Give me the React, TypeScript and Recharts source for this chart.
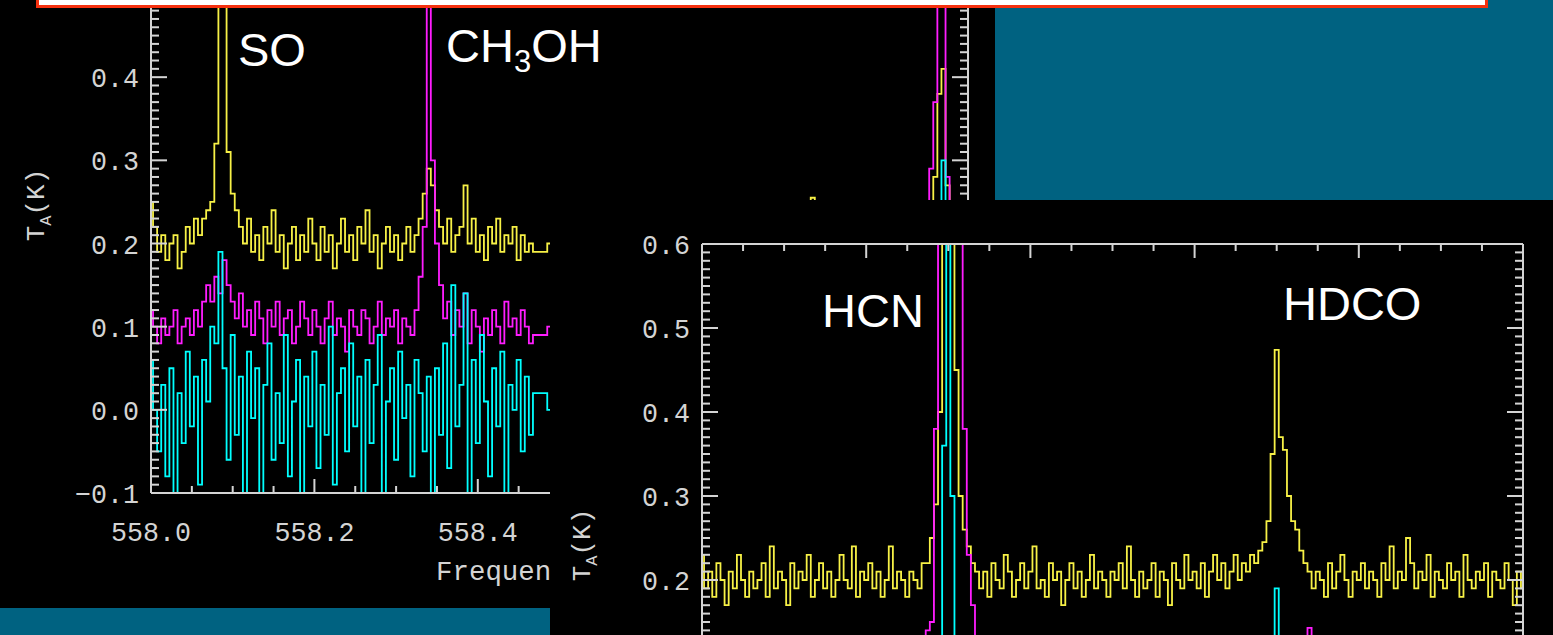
import { LineChart, Line, XAxis, YAxis } from 'recharts';

const YELLOW = '#f7f146';
const MAGENTA = '#ff1dff';
const CYAN = '#00ffff';
const AXIS = '#d4d4d4';
const TEAL = '#006281';
const MONO = '"Liberation Mono", "DejaVu Sans Mono", monospace';
const SANS = '"Liberation Sans", Arial, sans-serif';

const CHAN = 0.005; // GHz per channel

// upper spectrum (558 GHz band): channels 558.000 + 0.005 * k, k = 0..94
const leftStart = 558.0;
const leftYellow = [
  0.25, 0.22, 0.19, 0.21, 0.18, 0.2, 0.21, 0.17, 0.19, 0.22,
  0.2, 0.23, 0.21, 0.23, 0.24, 0.25, 0.32, 0.8, 0.8, 0.31,
  0.26, 0.24, 0.22, 0.2, 0.23, 0.19, 0.21, 0.18, 0.22, 0.2,
  0.24, 0.19, 0.21, 0.17, 0.2, 0.22, 0.18, 0.21, 0.19, 0.23,
  0.2, 0.18, 0.22, 0.19, 0.21, 0.17, 0.2, 0.23, 0.19, 0.21,
  0.18, 0.22, 0.2, 0.24, 0.19, 0.21, 0.17, 0.2, 0.22, 0.19,
  0.21, 0.18, 0.2, 0.22, 0.19, 0.21, 0.23, 0.26, 0.29, 0.27,
  0.24, 0.22, 0.2, 0.23, 0.19, 0.21, 0.22, 0.27, 0.2, 0.23,
  0.19, 0.21, 0.18, 0.22, 0.2, 0.23, 0.19, 0.21, 0.2, 0.22,
  0.18, 0.21, 0.19, 0.2, 0.19,
];
const leftMagenta = [
  0.12, 0.1, 0.08, 0.11, 0.09, 0.1, 0.12, 0.08, 0.1, 0.11,
  0.09, 0.12, 0.1, 0.13, 0.15, 0.13, 0.16, 0.14, 0.18, 0.15,
  0.13, 0.11, 0.14, 0.1, 0.12, 0.09, 0.13, 0.11, 0.08, 0.12,
  0.1, 0.13, 0.09, 0.11, 0.12, 0.08, 0.1, 0.13, 0.11, 0.09,
  0.12, 0.1, 0.08, 0.11, 0.13, 0.09, 0.11, 0.1, 0.07, 0.12,
  0.1, 0.09, 0.12, 0.11, 0.08, 0.1, 0.13, 0.09, 0.11, 0.1,
  0.12, 0.08, 0.11, 0.1, 0.09, 0.12, 0.16, 0.22, 0.8, 0.3,
  0.2, 0.15, 0.11, 0.13, 0.09, 0.12, 0.1, 0.14, 0.08, 0.12,
  0.1, 0.07, 0.11, 0.09, 0.12, 0.1, 0.08, 0.13, 0.1, 0.11,
  0.09, 0.12, 0.1, 0.08, 0.09,
];
const leftCyan = [
  0.06, 0.0, -0.05, 0.03, -0.08, 0.05, -0.12, 0.02, -0.04, 0.07,
  -0.02, 0.04, -0.09, 0.06, 0.01, 0.1, 0.08, 0.19, 0.05, -0.06,
  0.09, -0.03, 0.04, -0.1, 0.07, -0.01, 0.05, -0.12, 0.03, 0.08,
  -0.06, 0.02, -0.04, 0.09, -0.08, 0.01, 0.06, -0.11, 0.04, -0.02,
  0.07, -0.07, 0.03, -0.03, 0.1, -0.09, 0.02, 0.05, -0.05, 0.08,
  -0.02, 0.04, -0.1, 0.06, -0.04, 0.03, 0.09, -0.13, 0.01, 0.05,
  -0.06, 0.07, -0.01, 0.03, -0.08, 0.06, 0.02, -0.05, 0.04, -0.12,
  0.05, -0.03, 0.08, -0.07, 0.15, -0.02, 0.03, 0.14, -0.12, 0.06,
  -0.04, 0.09, 0.01, -0.08, 0.05, -0.02, 0.07, -0.11, 0.03, 0.0,
  0.06, -0.05, 0.04, -0.03, 0.02,
];
// rest of the band (mostly behind the lower panel) and the line at its edge
const leftYellowTail: [number, number][] = [
  [558.5, 0.2], [558.54, 0.21], [558.58, 0.19], [558.62, 0.2], [558.66, 0.21], [558.7, 0.19],
  [558.74, 0.2], [558.78, 0.21], [558.805, 0.2], [558.81, 0.255], [558.815, 0.2], [558.85, 0.19],
  [558.89, 0.21], [558.93, 0.2], [558.95, 0.22], [558.955, 0.24], [558.96, 0.28], [558.965, 0.38],
  [558.97, 0.41], [558.975, 0.27], [558.98, 0.22], [558.99, 0.2], [559.0, 0.2],
];
const leftMagentaTail: [number, number][] = [
  [558.5, 0.1], [558.55, 0.09], [558.6, 0.11], [558.65, 0.1], [558.7, 0.09], [558.75, 0.11],
  [558.8, 0.1], [558.85, 0.09], [558.9, 0.11], [558.945, 0.12], [558.95, 0.16], [558.955, 0.29],
  [558.96, 0.37], [558.965, 0.8], [558.97, 0.8], [558.975, 0.28], [558.98, 0.16], [558.985, 0.11],
  [559.0, 0.1],
];
const leftCyanTail: [number, number][] = [
  [558.5, 0.0], [558.55, 0.03], [558.6, -0.02], [558.65, 0.01], [558.7, -0.03], [558.75, 0.02],
  [558.8, 0.0], [558.85, -0.02], [558.9, 0.03], [558.955, 0.0], [558.96, 0.04], [558.965, 0.12],
  [558.97, 0.3], [558.975, 0.06], [558.985, 0.0], [559.0, 0.01],
];

// lower spectrum (354 GHz band): channels 354.200 + 0.005 * k, k = 0..200
const rightStart = 354.2;
const rightYellow = [
  0.23, 0.19, 0.21, 0.18, 0.22, 0.2, 0.17, 0.21, 0.19, 0.23,
  0.2, 0.18, 0.21, 0.19, 0.2, 0.22, 0.18, 0.24, 0.19, 0.21,
  0.2, 0.17, 0.22, 0.19, 0.21, 0.2, 0.23, 0.18, 0.2, 0.22,
  0.19, 0.21, 0.18, 0.2, 0.23, 0.2, 0.19, 0.24, 0.18, 0.21,
  0.2, 0.22, 0.19, 0.21, 0.18, 0.2, 0.24, 0.19, 0.21, 0.2,
  0.18, 0.21, 0.2, 0.19, 0.22, 0.22, 0.25, 0.29, 0.4, 0.75,
  0.8, 0.76, 0.45, 0.3, 0.26, 0.24, 0.22, 0.21, 0.19, 0.21,
  0.18, 0.22, 0.2, 0.19, 0.23, 0.21, 0.18, 0.2, 0.22, 0.19,
  0.21, 0.24, 0.19, 0.2, 0.18, 0.22, 0.2, 0.21, 0.17, 0.2,
  0.22, 0.19, 0.21, 0.18, 0.2, 0.23, 0.19, 0.21, 0.2, 0.18,
  0.21, 0.2, 0.22, 0.19, 0.24, 0.2, 0.18, 0.21, 0.19, 0.2,
  0.22, 0.18, 0.21, 0.2, 0.17, 0.22, 0.2, 0.19, 0.23, 0.2,
  0.21, 0.19, 0.22, 0.18, 0.21, 0.23, 0.2, 0.22, 0.19, 0.21,
  0.23, 0.2, 0.22, 0.21, 0.23, 0.22, 0.235, 0.245, 0.27, 0.35,
  0.474, 0.37, 0.355, 0.3, 0.27, 0.26, 0.235, 0.22, 0.21, 0.19,
  0.21, 0.2, 0.18, 0.22, 0.19, 0.21, 0.23, 0.2, 0.18, 0.21,
  0.2, 0.22, 0.19, 0.21, 0.2, 0.18, 0.22, 0.2, 0.24, 0.19,
  0.21, 0.2, 0.25, 0.22, 0.19, 0.21, 0.2, 0.23, 0.18, 0.21,
  0.2, 0.19, 0.22, 0.2, 0.21, 0.18, 0.23, 0.2, 0.19, 0.21,
  0.2, 0.22, 0.18, 0.21, 0.2, 0.19, 0.22, 0.2, 0.17, 0.21,
  0.19,
];
const rightMagenta: [number, number][] = [
  [354.2, 0.1], [354.24, 0.09], [354.28, 0.11], [354.32, 0.1], [354.36, 0.09], [354.4, 0.11],
  [354.44, 0.1], [354.465, 0.12], [354.47, 0.13], [354.475, 0.14], [354.48, 0.15], [354.485, 0.38],
  [354.49, 0.9], [354.495, 0.95], [354.5, 0.95], [354.505, 0.95], [354.51, 0.9], [354.515, 0.8],
  [354.52, 0.38], [354.525, 0.23], [354.53, 0.17], [354.535, 0.12], [354.54, 0.1], [354.58, 0.09],
  [354.62, 0.11], [354.66, 0.1], [354.7, 0.09], [354.74, 0.11], [354.78, 0.1], [354.82, 0.09],
  [354.86, 0.11], [354.895, 0.1], [354.9, 0.12], [354.905, 0.11], [354.935, 0.11], [354.94, 0.143],
  [354.945, 0.11], [354.98, 0.1], [355.02, 0.09], [355.06, 0.11], [355.1, 0.1], [355.14, 0.09],
  [355.2, 0.1],
];
const rightCyan: [number, number][] = [
  [354.2, 0.0], [354.25, 0.03], [354.3, -0.02], [354.35, 0.02], [354.4, -0.01], [354.45, 0.02],
  [354.485, 0.01], [354.49, 0.05], [354.495, 0.36], [354.5, 0.9], [354.505, 0.3], [354.51, 0.0],
  [354.515, 0.02], [354.55, -0.01], [354.6, 0.02], [354.65, 0.0], [354.7, -0.02], [354.75, 0.01],
  [354.8, 0.03], [354.85, -0.01], [354.895, 0.02], [354.9, 0.19], [354.905, 0.01], [354.95, 0.0],
  [355.0, -0.02], [355.05, 0.02], [355.1, 0.0], [355.15, -0.01], [355.2, 0.01],
];

// tick labels that are not hidden by the other panel or the title box
const leftXLabels = [558.0, 558.2, 558.4];
const leftYLabels = [-0.1, 0.0, 0.1, 0.2, 0.3, 0.4];
const rightYLabels = [0.2, 0.3, 0.4, 0.5, 0.6];

type Pt = { f: number; v: number };
const channels = (start: number, vals: number[]): Pt[] =>
  vals.map((v, i) => ({ f: +(start + i * CHAN).toFixed(3), v }));
const pairs = (list: [number, number][]): Pt[] => list.map(([f, v]) => ({ f, v }));

const range = (a: number, b: number, step: number) => {
  const out: number[] = [];
  for (let i = 0; a + i * step <= b + 1e-9; i++) out.push(+(a + i * step).toFixed(3));
  return out;
};

const fmt = (v: number) => (v < -1e-6 ? '\u2212' : '') + Math.abs(v).toFixed(1);
const onStep = (v: number, step: number) => Math.abs(v / step - Math.round(v / step)) < 1e-3;
const has = (list: number[], v: number) => list.some((l) => Math.abs(l - v) < 1e-6);

function TickLabel({ x, y, text, anchor }: { x: number; y: number; text: string; anchor: 'start' | 'middle' | 'end' }) {
  return (
    <text x={x} y={y} textAnchor={anchor} fill={AXIS} fontFamily={MONO} fontSize={28}
      textLength={text.length * 16} lengthAdjust="spacingAndGlyphs">
      {text}
    </text>
  );
}

// IDL style ticks: pointing into the plot, labels outside
const yTick = (dir: 1 | -1, labels: number[]) => (p: any) => {
  const v = p.payload.value as number;
  const major = onStep(v, 0.1);
  return (
    <g>
      <line x1={p.x} x2={p.x + dir * (major ? 16 : 8)} y1={p.y} y2={p.y} stroke={AXIS} strokeWidth={2} />
      {has(labels, v) ? <TickLabel x={p.x - 12} y={p.y + 10} text={fmt(v)} anchor="end" /> : null}
    </g>
  );
};
const xTick = (dir: 1 | -1, labels: number[]) => (p: any) => {
  const v = p.payload.value as number;
  const major = onStep(v, 0.2);
  return (
    <g>
      <line x1={p.x} x2={p.x} y1={p.y} y2={p.y + dir * (major ? 14 : 7)} stroke={AXIS} strokeWidth={2} />
      {has(labels, v) ? <TickLabel x={p.x} y={p.y + 48} text={v.toFixed(1)} anchor="middle" /> : null}
    </g>
  );
};

const axisLine = { stroke: AXIS, strokeWidth: 2 };
const tickBase = { tickLine: false, tickSize: 0, tickMargin: 0, interval: 0 as const, axisLine };

function TA({ x, y }: { x: number; y: number }) {
  return (
    <text transform={`translate(${x},${y}) rotate(-90)`} textAnchor="middle" fill={AXIS} fontFamily={MONO} fontSize={26}>
      T<tspan fontSize={17} dy={7}>A</tspan><tspan dy={-7}>(K)</tspan>
    </text>
  );
}

export default function App() {
  const lY = [...channels(leftStart, leftYellow), ...pairs(leftYellowTail)];
  const lM = [...channels(leftStart, leftMagenta), ...pairs(leftMagentaTail)];
  const lC = [...channels(leftStart, leftCyan), ...pairs(leftCyanTail)];
  const rY = channels(rightStart, rightYellow);
  const rM = pairs(rightMagenta);
  const rC = pairs(rightCyan);
  const lineBase = { type: 'step' as const, dataKey: 'v', dot: false, activeDot: false, strokeWidth: 1.8, isAnimationActive: false };

  return (
    <div style={{ position: 'fixed', left: 0, top: 0, width: 1553, height: 635, overflow: 'hidden', background: TEAL }}>
      {/* upper (558 GHz) panel */}
      <div style={{ position: 'absolute', left: 0, top: 0, width: 995, height: 608, background: '#000', overflow: 'hidden' }}>
        <div style={{ position: 'absolute', left: 0, top: -20 }}>
          <LineChart width={995} height={628} margin={{ top: 14, right: 17, bottom: 55, left: 51 }}>
            <XAxis xAxisId="b" type="number" dataKey="f" domain={[558, 559]} ticks={range(558, 559, 0.05)}
              allowDataOverflow height={60} tick={xTick(-1, leftXLabels)} {...tickBase} />
            <YAxis yAxisId="l" type="number" domain={[-0.1, 0.5]} ticks={range(-0.1, 0.5, 0.01)}
              allowDataOverflow width={100} tick={yTick(1, leftYLabels)} {...tickBase} />
            <YAxis yAxisId="r" orientation="right" type="number" domain={[-0.1, 0.5]} ticks={range(-0.1, 0.5, 0.01)}
              allowDataOverflow width={10} tick={yTick(-1, [])} {...tickBase} />
            <Line data={lY} stroke={YELLOW} xAxisId="b" yAxisId="l" {...lineBase} />
            <Line data={lM} stroke={MAGENTA} xAxisId="b" yAxisId="l" {...lineBase} />
            <Line data={lC} stroke={CYAN} xAxisId="b" yAxisId="l" {...lineBase} />
          </LineChart>
        </div>
        <svg width={995} height={608} style={{ position: 'absolute', left: 0, top: 0, pointerEvents: 'none' }}>
          <TA x={44} y={205} />
        </svg>
        {/* axis title, cut by the lower panel as in the slide */}
        <svg width={550} height={608} style={{ position: 'absolute', left: 0, top: 0, pointerEvents: 'none' }}>
          <text x={559.5} y={580} textAnchor="middle" fill={AXIS} fontFamily={MONO} fontSize={28}
            textLength={247} lengthAdjust="spacingAndGlyphs">Frequency (GHz)</text>
        </svg>
      </div>

      {/* lower (354 GHz) panel */}
      <div style={{ position: 'absolute', left: 550, top: 200, width: 1003, height: 435, background: '#000', overflow: 'hidden' }}>
        <div style={{ position: 'absolute', left: 0, top: 0 }}>
          <LineChart width={1003} height={712} margin={{ top: 34, right: 20, bottom: 40, left: 52 }}>
            <XAxis xAxisId="b" type="number" dataKey="f" domain={[354.2, 355.2]} ticks={range(354.2, 355.2, 0.05)}
              allowDataOverflow height={40} tick={xTick(-1, [])} {...tickBase} />
            <XAxis xAxisId="t" orientation="top" type="number" dataKey="f" domain={[354.2, 355.2]} ticks={range(354.2, 355.2, 0.05)}
              allowDataOverflow height={10} tick={xTick(1, [])} {...tickBase} />
            <YAxis yAxisId="l" type="number" domain={[-0.1, 0.6]} ticks={range(-0.1, 0.6, 0.01)}
              allowDataOverflow width={100} tick={yTick(1, rightYLabels)} {...tickBase} />
            <YAxis yAxisId="r" orientation="right" type="number" domain={[-0.1, 0.6]} ticks={range(-0.1, 0.6, 0.01)}
              allowDataOverflow width={10} tick={yTick(-1, [])} {...tickBase} />
            <Line data={rY} stroke={YELLOW} xAxisId="b" yAxisId="l" {...lineBase} />
            <Line data={rM} stroke={MAGENTA} xAxisId="b" yAxisId="l" {...lineBase} />
            <Line data={rC} stroke={CYAN} xAxisId="b" yAxisId="l" {...lineBase} />
          </LineChart>
        </div>
        <svg width={1003} height={435} style={{ position: 'absolute', left: 0, top: 0, pointerEvents: 'none' }}>
          <TA x={40} y={345} />
        </svg>
      </div>

      {/* title box edge */}
      <div style={{ position: 'absolute', left: 36, top: -30, width: 1452, height: 38, boxSizing: 'border-box',
        background: '#fff', border: '3px solid #f5300f' }} />

      {/* line identifications */}
      <svg width={1553} height={635} style={{ position: 'absolute', left: 0, top: 0, pointerEvents: 'none' }}>
        <g fontFamily={SANS} fontSize={47} fill="#fff">
          <text x={238} y={66}>SO</text>
          <text x={446} y={62}>CH<tspan fontSize={31} dy={10}>3</tspan><tspan dy={-10}>OH</tspan></text>
          <text x={822} y={327}>HCN</text>
          <text x={1283} y={320}>HDCO</text>
        </g>
      </svg>
    </div>
  );
}
